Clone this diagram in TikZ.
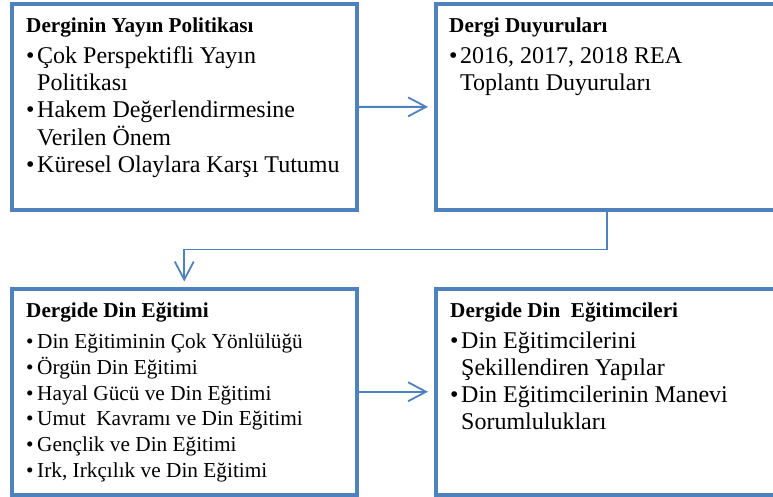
\documentclass[tikz,border=0pt]{standalone}
\usepackage{fontspec}
\setmainfont{Liberation Serif}
\usetikzlibrary{arrows.meta}
\definecolor{mavi}{HTML}{4F81BD}
\tikzset{
	kutu/.style={draw=mavi, line width=4pt, inner sep=0pt, minimum width=344pt, minimum height=205.5pt},
	metin/.style={anchor=base west, inner sep=0pt, font=\fontsize{24}{27}\selectfont},
	ok/.style={draw=mavi, line width=1.8pt, -{Straight Barb[length=18pt,width=19pt]}, shorten >=5.5pt}
}
\newcommand{\madde}{\makebox[11pt][l]{•}}
\newcommand{\bosluk}{\hspace*{11pt}}
\newcommand{\baslik}[1]{{\fontsize{21.2}{27}\selectfont\bfseries #1}}

\begin{document}
\begin{tikzpicture}[x=1pt, y=-1pt]
		\useasboundingbox (0,0) rectangle (773,497);

		% Cajas: centro y tamano en pixeles de la figura
		\node[kutu, minimum width=344.5pt, minimum height=206pt] (yayin) at (184.25,107) {};
		\node[kutu, minimum width=343.5pt] (duyuru) at (607.25,106.75) {};
		\node[kutu, minimum width=344.5pt] (egitim) at (184.25,391.75) {};
		\node[kutu, minimum width=343.5pt] (egitimci) at (607.25,391.75) {};

		% Textos de cada caja (linea base del titulo)
		\node[metin] (yayin-metin) at (26,33) {\begin{tabular}[t]{@{}l@{}}
			\baslik{Derginin Yayın Politikası}\\[4pt]
			\madde Çok Perspektifli Yayın\\
			\bosluk Politikası\\
			\madde Hakem Değerlendirmesine\\
			\bosluk Verilen Önem\\
			\madde Küresel Olaylara Karşı Tutumu
		\end{tabular}};
		\node[metin] (duyuru-metin) at (449,33) {\begin{tabular}[t]{@{}l@{}}
			\baslik{Dergi Duyuruları}\\[4pt]
			\madde 2016, 2017, 2018 REA\\
			\bosluk Toplantı Duyuruları
		\end{tabular}};
		\node[metin, font=\fontsize{21.3}{25.8}\selectfont] (egitim-metin) at (26,317.7) {\begin{tabular}[t]{@{}l@{}}
			\baslik{Dergide Din Eğitimi}\\[5pt]
			\madde Din Eğitiminin Çok Yönlülüğü\\
			\madde Örgün Din Eğitimi\\
			\madde Hayal Gücü ve Din Eğitimi\\
			\madde Umut\ \ Kavramı ve Din Eğitimi\\
			\madde Gençlik ve Din Eğitimi\\
			\madde Irk, Irkçılık ve Din Eğitimi
		\end{tabular}};
		\node[metin] (egitimci-metin) at (450,317.7) {\begin{tabular}[t]{@{}l@{}}
			\baslik{Dergide Din\ \ Eğitimcileri}\\[3.5pt]
			\madde Din Eğitimcilerini\\
			\bosluk Şekillendiren Yapılar\\
			\madde Din Eğitimcilerinin Manevi\\
			\bosluk Sorumlulukları
		\end{tabular}};

		% Flechas entre cajas
		\draw[ok] (yayin) -- (duyuru);
		\draw[ok] (duyuru.south) -- ++(0,38) -| (egitim.north);
		\draw[ok] (egitim) -- (egitimci);
	\end{tikzpicture}
\end{document}
